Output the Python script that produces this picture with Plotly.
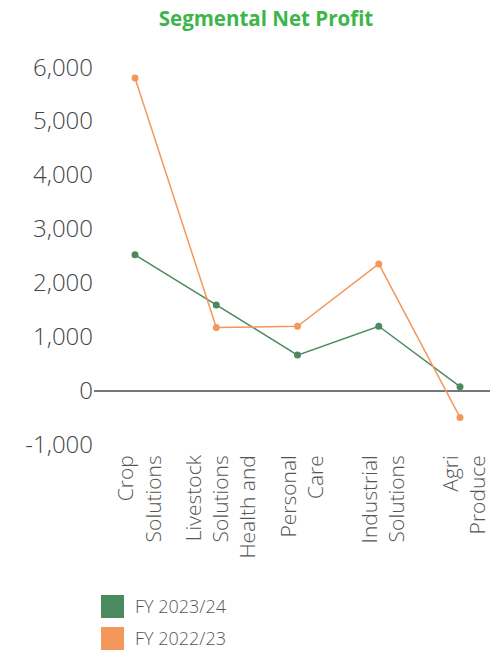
import plotly.graph_objects as go

# Segment names (line breaks as they appear on the axis)
segments = [
    "Crop<br>Solutions",
    "Livestock<br>Solutions<br>Health and",
    "Personal<br>Care",
    "Industrial<br>Solutions",
    "Agri<br>Produce",
]

# Net profit per segment
fy_2023_24 = [2520, 1590, 660, 1195, 75]
fy_2022_23 = [5800, 1170, 1195, 2350, -495]

series_names = ["FY 2023/24", "FY 2022/23"]
series_colors = ["#4b8a5e", "#f4975b"]

y_ticks = [-1000, 0, 1000, 2000, 3000, 4000, 5000, 6000]
y_tick_labels = [f"{v:,}" for v in y_ticks]

FONT = "Open Sans"

# Plot-area geometry (pixels) used to place the custom legend
W, H = 490, 650
M_L, M_R, M_T, M_B = 94, 0, 51, 200
PW, PH = W - M_L - M_R, H - M_T - M_B


def px_to_paper(x, y):
    return (x - M_L) / PW, (H - M_B - y) / PH


fig = go.Figure()
for name, vals, color in zip(series_names, [fy_2023_24, fy_2022_23], series_colors):
    fig.add_trace(go.Scatter(
        x=segments, y=vals, name=name, mode="lines+markers",
        line=dict(color=color, width=1.5),
        marker=dict(color=color, size=7),
        showlegend=False,
    ))

# Legend: filled squares with labels below the chart
shapes, annotations = [], []
for i, (name, color) in enumerate(zip(series_names, series_colors)):
    top = 595 + i * 32
    x0, y0 = px_to_paper(101, top + 23)
    x1, y1 = px_to_paper(124, top)
    shapes.append(dict(type="rect", xref="paper", yref="paper",
                       x0=x0, y0=y0, x1=x1, y1=y1,
                       fillcolor=color, line=dict(width=0)))
    tx, ty = px_to_paper(133, top + 10.5)
    annotations.append(dict(xref="paper", yref="paper", x=tx, y=ty,
                            text=name, showarrow=False,
                            xanchor="left", yanchor="middle",
                            font=dict(size=18, color="#555555",
                                      family=FONT, weight=300)))

fig.update_layout(
    width=W, height=H,
    margin=dict(l=M_L, r=M_R, t=M_T, b=M_B),
    paper_bgcolor="white", plot_bgcolor="white",
    title=dict(text="<b>Segmental Net Profit</b>", x=266 / W, xanchor="center",
               y=1 - 19 / H, yanchor="middle", xref="container", yref="container",
               font=dict(size=20.5, color="#3cb54a", family=FONT)),
    xaxis=dict(
        range=[-0.505, 4.369], showgrid=False, zeroline=False,
        showline=False, ticks="", tickangle=-90, automargin=False,
        ticklabelshift=5,
        tickfont=dict(size=21, color="#555555", family=FONT, weight=300),
    ),
    yaxis=dict(
        range=[-1100, 6300], tickvals=y_ticks, ticktext=y_tick_labels,
        showgrid=False, zeroline=True, zerolinecolor="#777777",
        zerolinewidth=1.5, showline=False, ticks="", automargin=False,
        tickfont=dict(size=24, color="#444444", family=FONT, weight=300),
    ),
    shapes=shapes, annotations=annotations,
    showlegend=False,
)

fig.write_html("out.html")
